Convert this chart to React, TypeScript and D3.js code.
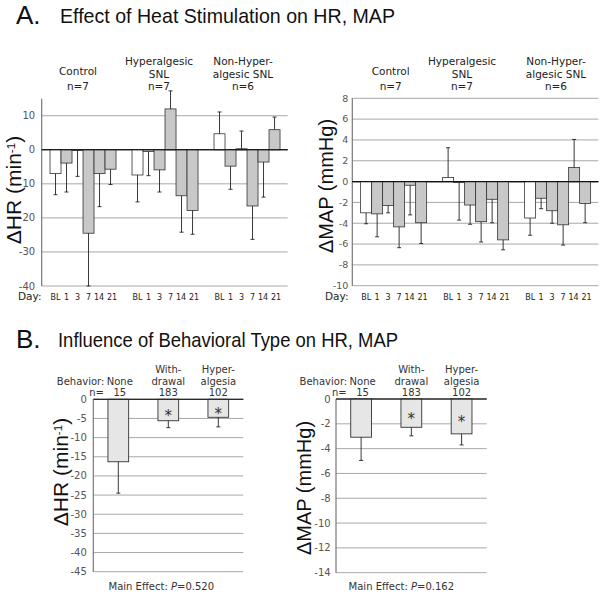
import React from 'react';
import * as d3 from 'd3';

// ---------- DATA ----------
const days = ['BL', '1', '3', '7', '14', '21'];
const groupsA = ['Control', 'Hyperalgesic SNL', 'Non-Hyperalgesic SNL'];
const groupLabelLines = [['Control', 'n=7'], ['Hyperalgesic', 'SNL', 'n=7'], ['Non-Hyper-', 'algesic SNL', 'n=6']];

const hrControl = [-7.0, -3.9, -0.2, -24.5, -7.0, -5.7];
const hrControlSem = [6.2, 8.5, 7.6, 15.5, 9.7, 4.5];
const hrHyper = [-7.4, -0.5, -5.9, 12.0, -13.5, -17.8];
const hrHyperSem = [7.9, 7.1, 6.5, 5.3, 10.7, 7.0];
const hrNonHyper = [4.7, -4.8, 0.3, -16.5, -3.6, 5.9];
const hrNonHyperSem = [6.4, 6.8, 5.2, 9.8, 10.3, 3.7];

const mapControl = [-3.0, -3.1, -2.3, -4.35, -0.35, -3.95];
const mapControlSem = [1.05, 2.2, 0.7, 2.0, 2.85, 2.0];
const mapHyper = [0.4, -0.1, -2.25, -3.85, -1.7, -5.6];
const mapHyperSem = [2.85, 3.6, 1.85, 1.95, 2.25, 0.95];
const mapNonHyper = [-3.5, -1.6, -2.8, -4.15, 1.35, -2.1];
const mapNonHyperSem = [1.65, 1.0, 1.2, 1.95, 2.7, 1.85];

const hrTicksA = [10, 0, -10, -20, -30, -40];
const mapTicksA = [8, 6, 4, 2, 0, -2, -4, -6, -8, -10];

const behaviors = ['None', 'Withdrawal', 'Hyperalgesia'];
const behaviorLine1 = ['', 'With-', 'Hyper-'];
const behaviorLine2 = ['None', 'drawal', 'algesia'];
const behaviorN = ['15', '183', '102'];
const hrB = [-16.3, -5.6, -4.7];
const hrBSem = [8.2, 1.8, 2.5];
const mapB = [-3.08, -2.28, -2.81];
const mapBSem = [1.87, 0.69, 0.89];
const significantB = [false, true, true];
const hrTicksB = [0, -5, -10, -15, -20, -25, -30, -35, -40, -45];
const mapTicksB = [0, -2, -4, -6, -8, -10, -12, -14];
const pValues = ['0.520', '0.162'];

// ---------- STYLE ----------
const verdana = "DejaVu Sans, Verdana, sans-serif";
const helv = "Liberation Sans, Arial, Helvetica, sans-serif";
const gridCol = '#a8a8a8';
const axisCol = '#777';
const barStroke = '#333';

type Series = { values: number[]; sem: number[] };

function ErrorBar({ x, y, v, sem }: { x: number; y: d3.ScaleLinear<number, number>; v: number; sem: number }) {
  const s = v >= 0 ? 1 : -1;
  const y1 = y(v);
  const y2 = y(v + s * sem);
  return (
    <g stroke="#222" strokeWidth={0.9}>
      <line x1={x} x2={x} y1={y1} y2={y2} />
      <line x1={x - 2} x2={x + 2} y1={y2} y2={y2} />
    </g>
  );
}

function ChartA({
  left, right, top, bottom, domain, ticks, series, labelX, yLabel, yLabelX, yLabelY, yLabelSize, tickGap, tickSize,
  dayLabelX,
}: {
  left: number; right: number; top: number; bottom: number; domain: [number, number]; ticks: number[];
  series: Series[]; labelX: number[]; yLabel: React.ReactNode; yLabelX: number; yLabelY: number; yLabelSize: number;
  tickGap: number; tickSize: number; dayLabelX: number;
}) {
  const y = d3.scaleLinear().domain(domain).range([bottom, top]);
  const xg = d3.scaleBand<string>().domain(groupsA).range([left, right]).padding(0);
  const bw = xg.bandwidth();
  const xd = d3.scaleBand<string>().domain(days).range([bw * 0.1015, bw * 0.9065]).padding(0);
  return (
    <g>
      {ticks.map((t) => (
        <g key={t}>
          <line x1={left} x2={right} y1={y(t)} y2={y(t)} stroke={t === 0 ? '#111' : gridCol} strokeWidth={t === 0 ? 1.1 : 1} />
          <text x={left - tickGap} y={y(t)} dy="0.35em" textAnchor="end" style={{ fontFamily: verdana }} fontSize={tickSize} fill="#555">
            {t}
          </text>
        </g>
      ))}
      <line x1={left} x2={left} y1={top} y2={bottom} stroke={axisCol} strokeWidth={1.2} />
      {series.map((s, gi) => {
        const gx = xg(groupsA[gi])!;
        return (
          <g key={gi}>
            {s.values.map((v, di) => {
              const bx = gx + xd(days[di])!;
              const w = xd.bandwidth();
              return (
                <g key={di}>
                  <rect x={bx} y={Math.min(y(v), y(0))} width={w} height={Math.abs(y(v) - y(0))}
                    fill={di === 0 ? '#fff' : '#c8c8c8'} stroke={barStroke} strokeWidth={0.8} />
                  <ErrorBar x={bx + w / 2} y={y} v={v} sem={s.sem[di]} />
                </g>
              );
            })}
            {days.map((d, di) => (
              <text key={d} x={gx + xd(d)! + xd.bandwidth() / 2 + (di === 5 ? 1.5 : di === 4 ? -0.5 : 0)} y={300} textAnchor="middle"
                style={{ fontFamily: verdana }} fontSize={8} fill="#222">
                {d}
              </text>
            ))}
            {groupLabelLines[gi].map((ln, li, arr) => (
              <text key={li} x={labelX[gi]} y={arr.length === 2 && li === 0 ? 75 : 90 - (arr.length - 1 - li) * 12.5}
                textAnchor="middle" style={{ fontFamily: verdana }} fontSize={10.5} fill="#222">
                {ln}
              </text>
            ))}
          </g>
        );
      })}
      <line x1={left} x2={right} y1={y(0)} y2={y(0)} stroke="#111" strokeWidth={1.1} />
      <text x={dayLabelX} y={300} style={{ fontFamily: verdana }} fontSize={10.5} fill="#222">Day:</text>
      <text transform={`translate(${yLabelX},${yLabelY}) rotate(-90)`} textAnchor="middle" style={{ fontFamily: helv }} fontSize={yLabelSize} fill="#111">
        {yLabel}
      </text>
    </g>
  );
}

function ChartB({
  left, right, top, bottom, domain, ticks, values, sem, yLabel, yLabelX, yLabelY, yLabelSize, tickGap, p, footShift,
}: {
  left: number; right: number; top: number; bottom: number; domain: [number, number]; ticks: number[];
  values: number[]; sem: number[]; yLabel: React.ReactNode; yLabelX: number; yLabelY: number; yLabelSize: number;
  tickGap: number; p: string; footShift: number;
}) {
  const y = d3.scaleLinear().domain(domain).range([bottom, top]);
  const x = d3.scaleBand<string>().domain(behaviors).range([left, right]).paddingInner(0.586).paddingOuter(0.293);
  const w = x.bandwidth();
  return (
    <g>
      {ticks.map((t) => (
        <g key={t}>
          <line x1={left} x2={right} y1={y(t)} y2={y(t)} stroke={t === 0 ? '#222' : gridCol} strokeWidth={1} />
          <text x={left - tickGap} y={y(t)} dy="0.35em" textAnchor="end" style={{ fontFamily: verdana }} fontSize={10} fill="#555">
            {t}
          </text>
        </g>
      ))}
      <line x1={left} x2={left} y1={top} y2={bottom} stroke={axisCol} strokeWidth={1.2} />
      {values.map((v, i) => {
        const bx = x(behaviors[i])!;
        const cx = bx + w / 2;
        const mid = (y(0) + y(v)) / 2;
        const tx = cx + (i === 0 ? 1.5 : 0);
        return (
          <g key={i}>
            <rect x={bx} y={y(0)} width={w} height={y(v) - y(0)} fill="#e6e6e6" stroke={barStroke} strokeWidth={0.9} />
            <ErrorBar x={cx} y={y} v={v} sem={sem[i]} />
            {significantB[i] && (
              <text x={cx} y={mid + 11} textAnchor="middle" style={{ fontFamily: verdana }} fontSize={15} fill="#333">*</text>
            )}
            {behaviorLine1[i] && (
              <text x={tx} y={373} textAnchor="middle" style={{ fontFamily: verdana }} fontSize={10} fill="#333">{behaviorLine1[i]}</text>
            )}
            <text x={tx} y={384.5} textAnchor="middle" style={{ fontFamily: verdana }} fontSize={10} fill="#333">{behaviorLine2[i]}</text>
            <text x={tx} y={396} textAnchor="middle" style={{ fontFamily: verdana }} fontSize={10} fill="#333">{behaviorN[i]}</text>
          </g>
        );
      })}
      <line x1={left} x2={right} y1={y(0)} y2={y(0)} stroke="#222" strokeWidth={1} />
      <text x={x(behaviors[0])! - 3.5} y={384.5} textAnchor="end" style={{ fontFamily: verdana }} fontSize={10} fill="#333">Behavior:</text>
      <text x={x(behaviors[0])! - 4} y={396} textAnchor="end" style={{ fontFamily: verdana }} fontSize={10} fill="#333">n=</text>
      <text x={(left + right) / 2 + footShift} y={590} textAnchor="middle" style={{ fontFamily: verdana }} fontSize={10} fill="#333">
        Main Effect:  <tspan fontStyle="italic">P</tspan>={p}
      </text>
      <text transform={`translate(${yLabelX},${yLabelY}) rotate(-90)`} textAnchor="middle" style={{ fontFamily: helv }} fontSize={yLabelSize} fill="#111">
        {yLabel}
      </text>
    </g>
  );
}

export default function App() {
  const hrSeries: Series[] = [
    { values: hrControl, sem: hrControlSem },
    { values: hrHyper, sem: hrHyperSem },
    { values: hrNonHyper, sem: hrNonHyperSem },
  ];
  const mapSeries: Series[] = [
    { values: mapControl, sem: mapControlSem },
    { values: mapHyper, sem: mapHyperSem },
    { values: mapNonHyper, sem: mapNonHyperSem },
  ];
  const hrLabel = (
    <>
      ΔHR (min<tspan fontSize="0.55em" dy="-0.55em">-1</tspan><tspan dy="0.3em">)</tspan>
    </>
  );
  return (
    <svg width={603} height={596} style={{ position: 'absolute', left: 0, top: 0, background: '#fff' }}>
      <rect width={603} height={596} fill="#fff" />
      {/* Titles */}
      <text x={16} y={23.5} style={{ fontFamily: helv }} fontSize={26} fill="#111">A.</text>
      <text x={60} y={22.5} style={{ fontFamily: helv }} fontSize={21} fill="#111" textLength={335} lengthAdjust="spacingAndGlyphs">
        Effect of Heat Stimulation on HR, MAP
      </text>
      <text x={16} y={348} style={{ fontFamily: helv }} fontSize={26} fill="#111">B.</text>
      <text x={58} y={347} style={{ fontFamily: helv }} fontSize={21} fill="#111" textLength={340} lengthAdjust="spacingAndGlyphs">
        Influence of Behavioral Type on HR, MAP
      </text>

      <ChartA left={41.7} right={287.7} top={98.7} bottom={286} domain={[-40, 15]} ticks={hrTicksA}
        series={hrSeries} labelX={[78, 159, 243]} yLabel={hrLabel} yLabelX={21} yLabelY={190} yLabelSize={21}
        tickGap={6.5} tickSize={10} dayLabelX={18} />
      <ChartA left={352.3} right={598.3} top={98.3} bottom={285.7} domain={[-10, 8]} ticks={mapTicksA}
        series={mapSeries} labelX={[390.7, 462, 556]} yLabel={'ΔMAP (mmHg)'} yLabelX={333} yLabelY={186} yLabelSize={20}
        tickGap={4} tickSize={9.5} dayLabelX={325} />

      <ChartB left={93.3} right={243.3} top={399.3} bottom={571.7} domain={[-45, 0]} ticks={hrTicksB}
        values={hrB} sem={hrBSem} yLabel={hrLabel} yLabelX={68} yLabelY={472} yLabelSize={21} tickGap={6.5} p={pValues[0]}
        footShift={-7} />
      <ChartB left={336} right={486.7} top={399} bottom={572.7} domain={[-14, 0]} ticks={mapTicksB}
        values={mapB} sem={mapBSem} yLabel={'ΔMAP (mmHg)'} yLabelX={311} yLabelY={488} yLabelSize={20} tickGap={5.3} p={pValues[1]}
        footShift={-10} />
    </svg>
  );
}
